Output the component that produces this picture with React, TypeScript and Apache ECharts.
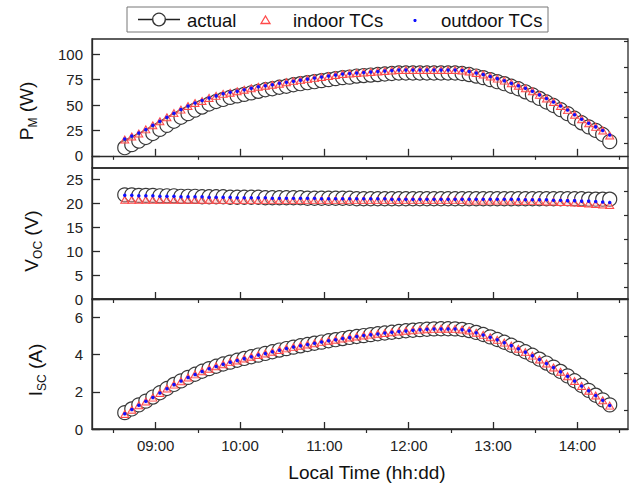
import React, { useEffect, useRef } from 'react';
import * as echarts from 'echarts';

const times = [
  '08:38', '08:43', '08:48', '08:53', '08:58', '09:03', '09:08', '09:13', '09:18', '09:23',
  '09:28', '09:33', '09:38', '09:43', '09:48', '09:53', '09:58', '10:03', '10:08', '10:13',
  '10:18', '10:23', '10:28', '10:33', '10:38', '10:43', '10:48', '10:53', '10:58', '11:03',
  '11:08', '11:13', '11:18', '11:23', '11:28', '11:33', '11:38', '11:43', '11:48', '11:53',
  '11:58', '12:03', '12:08', '12:13', '12:18', '12:23', '12:28', '12:33', '12:38', '12:43',
  '12:48', '12:53', '12:58', '13:03', '13:08', '13:13', '13:18', '13:23', '13:28', '13:33',
  '13:38', '13:43', '13:48', '13:53', '13:58', '14:03', '14:08', '14:13', '14:18', '14:23',
];

const actualPM = [
  8, 11, 14.5, 18, 22, 26, 30, 34, 38, 41.5,
  45, 48, 51, 53.5, 55.5, 57.5, 59, 60.5, 62, 63.5,
  65, 66, 67.5, 68.5, 70, 71, 72, 73, 74, 75,
  76, 77, 77.5, 78.5, 79, 79.5, 80, 80.5, 81, 81.5,
  81.5, 81.5, 81.5, 81.5, 81.5, 81.5, 81.5, 81.5, 81, 80,
  78.5, 77, 75, 73, 71, 68.5, 66, 63, 60, 56.5,
  53, 49.5, 45.5, 41.5, 37, 32.5, 28.5, 25, 21, 14,
];
const indoorPM = [
  16, 19, 22, 26, 30, 34, 38, 42, 45.5, 49,
  52, 54, 57, 59, 61, 62, 63.5, 65, 66.5, 68,
  69, 70, 71, 72.5, 73.5, 74.5, 75.5, 76.5, 77.5, 78.5,
  79.5, 80.5, 81, 81.5, 82, 82.5, 83, 83.5, 84, 84.5,
  84.5, 84.5, 84.5, 84.5, 84.5, 84.5, 84.5, 84.5, 84, 83,
  81.5, 80, 78, 76, 74, 71.5, 69, 66.5, 63.5, 60,
  56.5, 53, 49, 45, 40.5, 36, 32, 28.5, 25, 20,
];
const outdoorPM = [
  16.5, 19.5, 22.5, 26, 30, 34, 38, 42, 45.5, 49,
  52, 54.5, 57, 59, 61, 62.5, 63.5, 65, 66.5, 68,
  69, 70, 71.5, 72.5, 73.5, 74.5, 75.5, 76.5, 77.5, 78.5,
  79.5, 80.5, 81, 81.5, 82, 82.5, 83, 83.5, 84, 84.5,
  84.5, 84.5, 84.5, 84.5, 84.5, 84.5, 84.5, 84.5, 84, 83,
  81.5, 80, 78, 76, 74, 71.5, 69, 66.5, 63.5, 60,
  56.5, 53, 49, 45, 40.5, 36, 32, 28.5, 25, 20.5,
];

const actualVoc = [
  21.7, 21.7, 21.6, 21.6, 21.6, 21.5, 21.5, 21.5, 21.4, 21.4,
  21.4, 21.3, 21.3, 21.3, 21.3, 21.2, 21.2, 21.2, 21.2, 21.2,
  21.1, 21.1, 21.1, 21.1, 21.1, 21.1, 21.0, 21.0, 21.0, 21.0,
  21.0, 21.0, 21.0, 20.9, 20.9, 20.9, 20.9, 20.9, 20.9, 20.9,
  20.9, 20.9, 20.9, 20.9, 20.9, 20.9, 20.9, 20.9, 20.9, 20.9,
  20.9, 20.9, 20.9, 20.9, 20.9, 20.9, 20.9, 20.9, 20.9, 20.9,
  20.9, 20.9, 20.9, 20.9, 20.9, 20.9, 20.8, 20.8, 20.8, 20.8,
];
const indoorVoc = [
  20.7, 20.7, 20.7, 20.7, 20.7, 20.7, 20.7, 20.7, 20.7, 20.7,
  20.7, 20.7, 20.7, 20.7, 20.6, 20.6, 20.6, 20.6, 20.6, 20.6,
  20.6, 20.6, 20.6, 20.6, 20.6, 20.6, 20.6, 20.6, 20.6, 20.6,
  20.6, 20.6, 20.6, 20.6, 20.6, 20.6, 20.6, 20.6, 20.6, 20.6,
  20.6, 20.6, 20.6, 20.6, 20.6, 20.6, 20.6, 20.6, 20.6, 20.5,
  20.5, 20.5, 20.5, 20.5, 20.5, 20.5, 20.4, 20.4, 20.4, 20.4,
  20.3, 20.3, 20.2, 20.2, 20.1, 20.0, 19.9, 19.8, 19.7, 19.6,
];
const outdoorVoc = [
  21.6, 21.6, 21.5, 21.5, 21.5, 21.4, 21.4, 21.4, 21.3, 21.3,
  21.3, 21.3, 21.2, 21.2, 21.2, 21.2, 21.1, 21.1, 21.1, 21.1,
  21.1, 21.0, 21.0, 21.0, 21.0, 21.0, 21.0, 21.0, 20.9, 20.9,
  20.9, 20.9, 20.9, 20.9, 20.9, 20.9, 20.9, 20.9, 20.8, 20.8,
  20.8, 20.8, 20.8, 20.8, 20.8, 20.8, 20.8, 20.8, 20.8, 20.8,
  20.8, 20.8, 20.8, 20.8, 20.8, 20.8, 20.8, 20.7, 20.7, 20.7,
  20.7, 20.6, 20.6, 20.5, 20.5, 20.4, 20.4, 20.3, 20.2, 20.1,
];

const actualIsc = [
  0.88, 1.08, 1.3, 1.5, 1.72, 1.95, 2.18, 2.4, 2.59, 2.78,
  2.95, 3.11, 3.25, 3.38, 3.5, 3.6, 3.7, 3.8, 3.89, 3.98,
  4.07, 4.16, 4.25, 4.33, 4.41, 4.48, 4.55, 4.62, 4.68, 4.75,
  4.81, 4.87, 4.93, 4.98, 5.03, 5.08, 5.13, 5.17, 5.21, 5.25,
  5.29, 5.32, 5.35, 5.37, 5.39, 5.4, 5.4, 5.39, 5.36, 5.3,
  5.2, 5.09, 4.96, 4.82, 4.67, 4.51, 4.34, 4.16, 3.97, 3.76,
  3.55, 3.33, 3.1, 2.86, 2.6, 2.34, 2.08, 1.82, 1.57, 1.3,
];
const indoorIsc = [
  0.81, 1.04, 1.28, 1.48, 1.69, 1.94, 2.18, 2.39, 2.57, 2.77,
  2.94, 3.11, 3.24, 3.38, 3.49, 3.6, 3.69, 3.8, 3.89, 3.98,
  4.07, 4.16, 4.25, 4.34, 4.41, 4.48, 4.55, 4.62, 4.69, 4.75,
  4.81, 4.87, 4.93, 4.98, 5.03, 5.08, 5.13, 5.17, 5.21, 5.25,
  5.29, 5.32, 5.35, 5.37, 5.39, 5.4, 5.4, 5.39, 5.36, 5.3,
  5.18, 5.07, 4.94, 4.8, 4.65, 4.49, 4.32, 4.14, 3.95, 3.74,
  3.53, 3.31, 3.08, 2.84, 2.58, 2.32, 2.06, 1.8, 1.55, 1.26,
];
const outdoorIsc = [
  0.82, 1.05, 1.28, 1.49, 1.7, 1.94, 2.17, 2.39, 2.58, 2.77,
  2.94, 3.1, 3.24, 3.37, 3.49, 3.6, 3.69, 3.79, 3.89, 3.98,
  4.07, 4.16, 4.24, 4.33, 4.41, 4.48, 4.55, 4.62, 4.68, 4.75,
  4.81, 4.87, 4.92, 4.98, 5.03, 5.08, 5.12, 5.17, 5.21, 5.25,
  5.28, 5.32, 5.34, 5.37, 5.38, 5.39, 5.39, 5.38, 5.35, 5.29,
  5.18, 5.06, 4.94, 4.8, 4.65, 4.49, 4.32, 4.14, 3.95, 3.74,
  3.53, 3.31, 3.08, 2.84, 2.58, 2.32, 2.06, 1.8, 1.55, 1.27,
];

const hourTicks = [9, 10, 11, 12, 13, 14];
const halfHourTicks = [8.5, 9.5, 10.5, 11.5, 12.5, 13.5, 14.5];
const pmTicks = [0, 25, 50, 75, 100];
const pmMinor = [12.5, 37.5, 62.5, 87.5, 112.5];
const vocTicks = [0, 5, 10, 15, 20, 25];
const vocMinor = [2.5, 7.5, 12.5, 17.5, 22.5];
const iscTicks = [0, 2, 4, 6];
const iscMinor = [1, 3, 5];

const FONT = 'Liberation Sans, Arial, Helvetica, sans-serif';
const AXIS = '#2a2a2a';

const toHours = (s: string) => {
  const [h, m] = s.split(':').map(Number);
  return h + m / 60;
};
const pair = (vals: number[]) => vals.map((v, i) => [toHours(times[i]), v]);

const X_MIN = 8.245;
const X_MAX = 14.6;

function mainX(grid: number, showLabel: boolean) {
  return {
    type: 'value', gridIndex: grid, min: X_MIN, max: X_MAX,
    axisLine: { show: true, lineStyle: { color: AXIS, width: 1.3 } },
    axisTick: { show: true, inside: true, length: 7, customValues: hourTicks, lineStyle: { color: AXIS, width: 1.3 } },
    axisLabel: {
      show: showLabel, customValues: hourTicks, margin: 9, fontSize: 15, color: '#222', fontFamily: FONT,
      formatter: (v: number) => (v < 10 ? '0' : '') + Math.round(v) + ':00',
    },
    splitLine: { show: false },
  };
}
function minorX(grid: number) {
  return {
    type: 'value', gridIndex: grid, min: X_MIN, max: X_MAX,
    axisLine: { show: false },
    axisTick: { show: true, inside: true, length: 4, customValues: halfHourTicks, lineStyle: { color: AXIS, width: 1.2 } },
    axisLabel: { show: false },
    splitLine: { show: false },
  };
}
function mainY(grid: number, min: number, max: number, ticks: number[]) {
  return {
    type: 'value', gridIndex: grid, min, max,
    axisLine: { show: true, lineStyle: { color: AXIS, width: 1.3 } },
    axisTick: { show: true, inside: true, length: 8, customValues: ticks, lineStyle: { color: AXIS, width: 1.3 } },
    axisLabel: { show: true, customValues: ticks, margin: 9, fontSize: 15, color: '#222', fontFamily: FONT },
    splitLine: { show: false },
  };
}
function minorY(grid: number, min: number, max: number, ticks: number[]) {
  return {
    type: 'value', gridIndex: grid, min, max,
    axisLine: { show: false },
    axisTick: { show: true, inside: true, length: 4, customValues: ticks, lineStyle: { color: AXIS, width: 1.2 } },
    axisLabel: { show: false },
    splitLine: { show: false },
  };
}

function seriesFor(axis: number, actual: number[], indoor: number[], outdoor: number[], greenLine: boolean) {
  return [
    {
      type: 'line', name: 'actual', xAxisIndex: axis, yAxisIndex: axis, data: pair(actual),
      symbol: 'circle', symbolSize: 14, showSymbol: true, silent: true,
      lineStyle: { color: '#222', width: 1 },
      itemStyle: { color: '#ffffff', borderColor: '#3a3a3a', borderWidth: 1.2 },
    },
    {
      type: 'line', name: 'indoor TCs', xAxisIndex: axis, yAxisIndex: axis, data: pair(indoor),
      symbol: 'triangle', symbolSize: [8, 7], showSymbol: true, silent: true,
      lineStyle: { opacity: 0 },
      itemStyle: { color: 'rgba(255,160,160,0.35)', borderColor: '#ff4a4a', borderWidth: 1 },
    },
    {
      type: 'line', name: 'outdoor TCs', xAxisIndex: axis, yAxisIndex: axis, data: pair(outdoor),
      symbol: 'circle', symbolSize: 3.5, showSymbol: true, silent: true,
      lineStyle: greenLine ? { color: '#22cc22', width: 1.5 } : { opacity: 0 },
      itemStyle: { color: '#1010ff', borderWidth: 0 },
    },
  ];
}

function yTitle(x: number, y: number, main: string, sub: string, unit: string) {
  return {
    type: 'text', x, y, rotation: Math.PI / 2, z: 10,
    style: {
      text: `{a|${main}}{b|${sub}}{a| ${unit}}`,
      rich: {
        a: { fontSize: 19, fontFamily: FONT, fill: '#111', color: '#111' },
        b: { fontSize: 12, fontFamily: FONT, fill: '#111', color: '#111', padding: [13, 0, 0, 0] },
      },
      align: 'center', textAlign: 'center', verticalAlign: 'middle', textVerticalAlign: 'middle',
    },
  };
}

export default function App() {
  const ref = useRef<HTMLDivElement>(null);
  useEffect(() => {
    const chart = echarts.init(ref.current!, null, { renderer: 'svg' });
    const gridBase = { left: 92, width: 536, show: true, borderColor: AXIS, borderWidth: 1.3, backgroundColor: 'transparent' };
    const option: any = {
      animation: false,
      grid: [
        { ...gridBase, top: 39, height: 129 },
        { ...gridBase, top: 168, height: 131 },
        { ...gridBase, top: 299, height: 130 },
      ],
      xAxis: [mainX(0, false), minorX(0), mainX(1, false), minorX(1), mainX(2, true), minorX(2)],
      yAxis: [
        mainY(0, -12, 115, pmTicks), minorY(0, -12, 115, pmMinor),
        mainY(1, 0, 27.3, vocTicks), minorY(1, 0, 27.3, vocMinor),
        mainY(2, 0, 7, iscTicks), minorY(2, 0, 7, iscMinor),
      ],
      series: [
        ...seriesFor(0, actualPM, indoorPM, outdoorPM, false),
        ...seriesFor(2, actualVoc, indoorVoc, outdoorVoc, false),
        ...seriesFor(4, actualIsc, indoorIsc, outdoorIsc, true),
      ],
      graphic: [
        { type: 'rect', z: 10, shape: { x: 127, y: 7, width: 421, height: 25 }, style: { fill: '#fff', stroke: '#777', lineWidth: 1 } },
        { type: 'line', z: 11, shape: { x1: 138, y1: 19.5, x2: 180, y2: 19.5 }, style: { stroke: '#222', lineWidth: 1.5 } },
        { type: 'circle', z: 12, shape: { cx: 159, cy: 19.5, r: 6.3 }, style: { fill: '#fff', stroke: '#333', lineWidth: 1.3 } },
        { type: 'text', z: 11, x: 187, y: 20, style: { text: 'actual', fontSize: 18.5, fontFamily: FONT, fill: '#111', verticalAlign: 'middle', textVerticalAlign: 'middle' } },
        { type: 'polygon', z: 11, shape: { points: [[265.5, 16], [270, 23.5], [261, 23.5]] }, style: { fill: '#fff', stroke: '#ff4a4a', lineWidth: 1.3 } },
        { type: 'text', z: 11, x: 293, y: 20, style: { text: 'indoor TCs', fontSize: 18.5, fontFamily: FONT, fill: '#111', verticalAlign: 'middle', textVerticalAlign: 'middle' } },
        { type: 'circle', z: 11, shape: { cx: 415, cy: 20.5, r: 1.6 }, style: { fill: '#1010ff' } },
        { type: 'text', z: 11, x: 441, y: 20, style: { text: 'outdoor TCs', fontSize: 18.5, fontFamily: FONT, fill: '#111', verticalAlign: 'middle', textVerticalAlign: 'middle' } },
        yTitle(26, 111, 'P', 'M', '(W)'),
        yTitle(31, 241, 'V', 'OC', '(V)'),
        yTitle(35, 370, 'I', 'SC', '(A)'),
        { type: 'text', z: 10, x: 367, y: 472, style: { text: 'Local Time (hh:dd)', fontSize: 19, fontFamily: FONT, fill: '#111', align: 'center', textAlign: 'center', verticalAlign: 'middle', textVerticalAlign: 'middle' } },
      ],
    };
    chart.setOption(option);
    return () => chart.dispose();
  }, []);
  return <div ref={ref} style={{ position: 'fixed', left: 0, top: 0, width: 630, height: 488, background: '#fff' }} />;
}
